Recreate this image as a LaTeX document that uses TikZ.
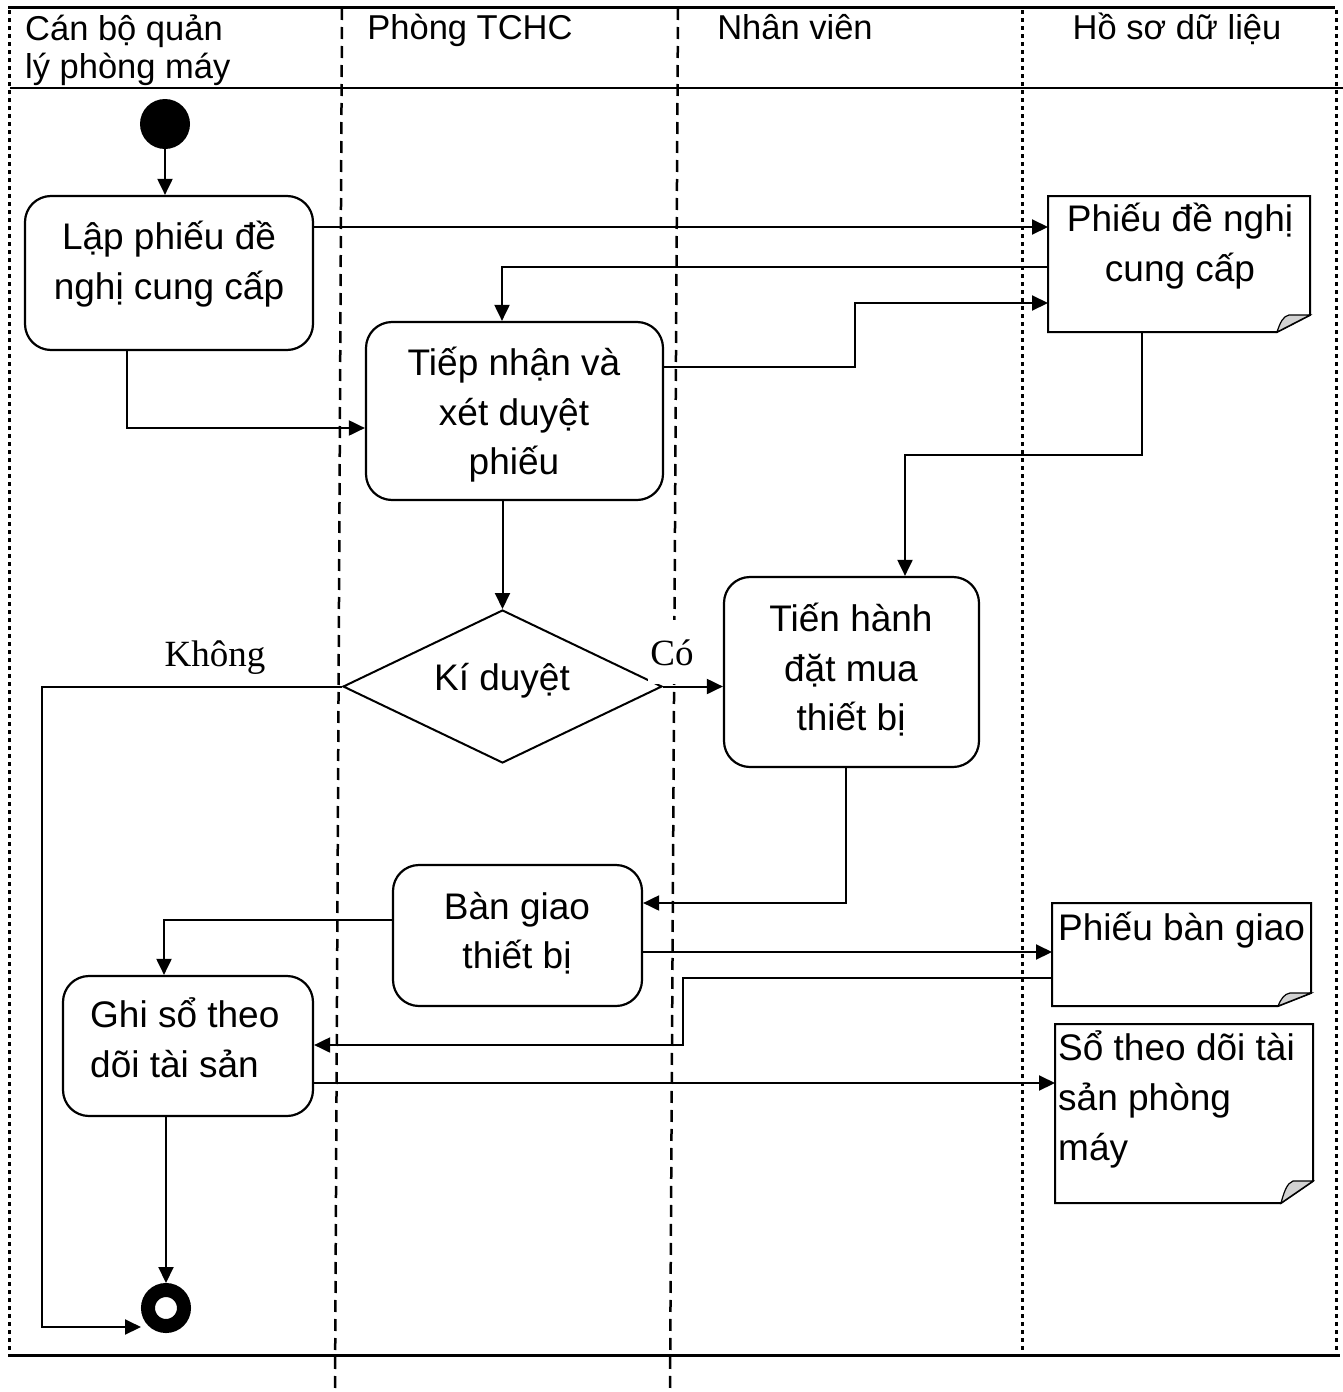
\documentclass[tikz,border=0pt]{standalone}
\usepackage{fontspec}
\setmainfont{Liberation Sans}
\newfontfamily\serifnf{Liberation Serif}
\usetikzlibrary{arrows.meta,shapes.geometric,calc}
\begin{document}
\begin{tikzpicture}[x=1pt,y=-1pt,
  arr/.style={-{Triangle[length=16pt,width=15pt]}, line width=2pt},
  act/.style={draw, line width=2.2pt, rounded corners=26pt, rectangle, inner sep=0pt},
  doc/.style={rectangle, inner sep=0pt, outer sep=0pt},
  txt/.style={anchor=base, inner sep=0pt, font=\fontsize{37}{44}\selectfont},
  htxt/.style={anchor=base, inner sep=0pt, font=\fontsize{34.5}{40}\selectfont},
  stxt/.style={anchor=base, inner sep=0pt, font=\serifnf\fontsize{37}{44}\selectfont},
  dotline/.style={line width=3pt, dash pattern=on 4pt off 4pt},
  dashline/.style={line width=2.5pt, dash pattern=on 12pt off 7pt},
  fold/.style={fill=gray!35, draw, line width=1.2pt}
]
\useasboundingbox (0,0) rectangle (1343,1392);
\fill[white] (0,0) rectangle (1343,1392);

% frame
\draw[line width=3pt] (8,7) -- (1335,7);
\draw[line width=2pt] (10,88) -- (1343,88);
\draw[line width=3pt] (8,1355) -- (1340,1355);
\draw[dotline] (9,10) -- (9,1352);
\draw[dotline] (1022,10) -- (1022,1352);
\draw[dotline] (1336,10) -- (1336,1352);
\draw[dashline] (342,8) -- (335,1392);
\draw[dashline] (678,8) -- (670,1392);

% headers
\node[htxt, anchor=base west] (h1a) at (25,40) {Cán bộ quản};
\node[htxt, anchor=base west] (h1b) at (25,78) {lý phòng máy};
\node[htxt] (h2) at (470,39) {Phòng TCHC};
\node[htxt] (h3) at (795,39) {Nhân viên};
\node[htxt] (h4) at (1177,39) {Hồ sơ dữ liệu};

% start / end
\node[circle, fill, minimum size=50pt, inner sep=0pt] (start) at (165,124) {};
\node[circle, draw, line width=14pt, minimum size=36pt, inner sep=0pt] (end) at (166,1308) {};

% activities
\node[act, minimum width=288pt, minimum height=154pt] (lap) at (169,273) {};
\node[txt] (lapt1) at (169,249) {Lập phiếu đề};
\node[txt] (lapt2) at (169,299) {nghị cung cấp};

\node[act, minimum width=297pt, minimum height=178pt] (tiep) at (514.5,411) {};
\node[txt] (tiept1) at (514,375) {Tiếp nhận và};
\node[txt] (tiept2) at (514,425) {xét duyệt};
\node[txt] (tiept3) at (514,474) {phiếu};

\node[diamond, draw, line width=2pt, minimum width=319pt, minimum height=153pt, shape aspect=2.085, inner sep=0pt] (kd) at (502.5,686.5) {};
\node[txt] (kdt) at (502,690) {Kí duyệt};

\node[act, minimum width=255pt, minimum height=190pt] (tien) at (851.5,672) {};
\node[txt] (tient1) at (851,631) {Tiến hành};
\node[txt] (tient2) at (851,681) {đặt mua};
\node[txt] (tient3) at (851,730) {thiết bị};

\node[act, minimum width=249pt, minimum height=141pt] (ban) at (517.5,935.5) {};
\node[txt] (bant1) at (517,919) {Bàn giao};
\node[txt] (bant2) at (517,968) {thiết bị};

\node[act, minimum width=250pt, minimum height=140pt] (ghi) at (188,1046) {};
\node[txt, anchor=base west] (ghit1) at (90,1027) {Ghi sổ theo};
\node[txt, anchor=base west] (ghit2) at (90,1077) {dõi tài sản};

% documents
\node[doc, minimum width=262pt, minimum height=136pt] (d1) at (1179,264) {};
\draw[line width=2pt] (d1.north west) -- (d1.north east) -- ($(d1.south east)+(0,-17)$) -- ($(d1.south east)+(-33,0)$) -- (d1.south west) -- cycle;
\draw[fold] ($(d1.south east)+(-33,0)$) .. controls ($(d1.south east)+(-30,-9)$) and ($(d1.south east)+(-27,-16)$) .. ($(d1.south east)+(-21,-17)$) -- ($(d1.south east)+(0,-17)$) -- cycle;
\node[txt] (d1t1) at (1180,231) {Phiếu đề nghị};
\node[txt] (d1t2) at (1180,281) {cung cấp};

\node[doc, minimum width=259pt, minimum height=103pt] (d2) at (1181.5,954.5) {};
\draw[line width=2pt] (d2.north west) -- (d2.north east) -- ($(d2.south east)+(0,-13)$) -- ($(d2.south east)+(-33,0)$) -- (d2.south west) -- cycle;
\draw[fold] ($(d2.south east)+(-33,0)$) .. controls ($(d2.south east)+(-30,-7)$) and ($(d2.south east)+(-27,-12)$) .. ($(d2.south east)+(-21,-13)$) -- ($(d2.south east)+(0,-13)$) -- cycle;
\node[txt, anchor=base west] (d2t) at (1058,940) {Phiếu bàn giao};

\node[doc, minimum width=258pt, minimum height=179pt] (d3) at (1184,1113.5) {};
\draw[line width=2pt] (d3.north west) -- (d3.north east) -- ($(d3.south east)+(0,-22)$) -- ($(d3.south east)+(-32,0)$) -- (d3.south west) -- cycle;
\draw[fold] ($(d3.south east)+(-32,0)$) .. controls ($(d3.south east)+(-29,-11)$) and ($(d3.south east)+(-26,-20)$) .. ($(d3.south east)+(-20,-22)$) -- ($(d3.south east)+(0,-22)$) -- cycle;
\node[txt, anchor=base west] (d3t1) at (1058,1060) {Sổ theo dõi tài};
\node[txt, anchor=base west] (d3t2) at (1058,1110) {sản phòng};
\node[txt, anchor=base west] (d3t3) at (1058,1160) {máy};

% guard labels
\node[stxt] (khong) at (215,666) {Không};
\node[stxt, fill=white, inner xsep=2pt, text height=45pt, text depth=19pt] (co) at (672,665) {Có};

% connectors
\draw[arr] (start.south) -- (start.south |- lap.north);
\draw[arr] (lap.east |- 0,227) -- (d1.west |- 0,227);
\draw[arr] (d1.west |- 0,267) -| (tiep.north -| 502,0);
\draw[arr] (tiep.east |- 0,367) -- (855,367) -- (855,303) -- (d1.west |- 0,303);
\draw[arr] (lap.south -| 127,0) |- (tiep.west |- 0,428);
\draw[arr] (d1.south -| 1142,0) -- (1142,455) -| (tien.north -| 905,0);
\draw[arr] (tiep.south -| kd.north) -- (kd.north);
\draw[arr] (kd.east) -- (tien.west |- kd.east);
\draw[arr] (kd.west) -- (42,686.5) -- (42,1327) -- (141,1327);
\draw[arr] (tien.south -| 846,0) -- (846,903) -- (ban.east |- 0,903);
\draw[arr] (ban.west |- 0,920) -| (ghi.north -| 164,0);
\draw[arr] (ban.east |- 0,952) -- (d2.west |- 0,952);
\draw[arr] (d2.west |- 0,978) -- (683,978) -- (683,1045) -- (ghi.east |- 0,1045);
\draw[arr] (ghi.east |- 0,1083) -- (d3.west |- 0,1083);
\draw[arr] (ghi.south -| end.north) -- (end.north);
\end{tikzpicture}
\end{document}
